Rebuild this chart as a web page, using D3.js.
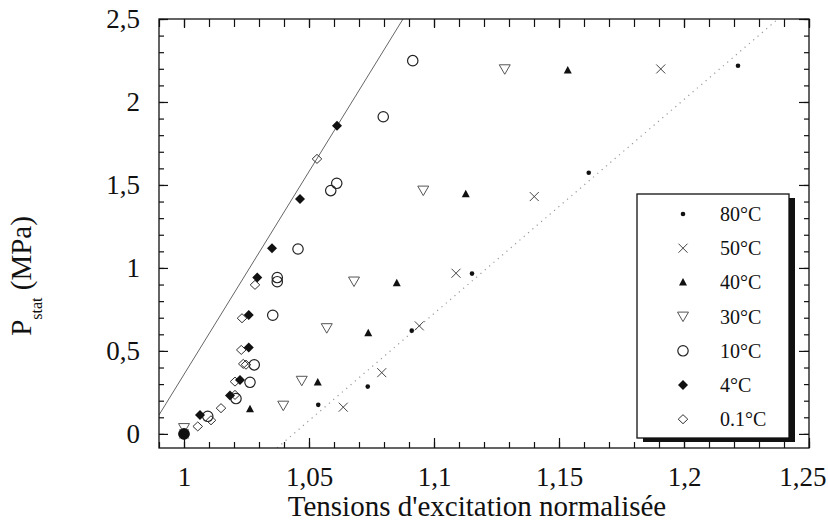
<!DOCTYPE html>
<html><head><meta charset="utf-8">
<script src="https://cdn.jsdelivr.net/npm/d3@7"></script>
<style>
body{margin:0;background:#fff;}
svg text{font-family:"Liberation Serif","Times New Roman",serif;fill:#111;}
</style></head>
<body><svg id="c" width="828" height="525"></svg>
<script>
// ---- data ----
const xMajorTicks=[1,1.05,1.1,1.15,1.2,1.25];
const xTickLabels=["1","1,05","1,1","1,15","1,2","1,25"];
const yMajorTicks=[0,0.5,1,1.5,2,2.5];
const yTickLabels=["0","0,5","1","1,5","2","2,5"];
const seriesNames=["80°C","50°C","40°C","30°C","10°C","4°C","0.1°C"];
const x80=[1.0,1.0537,1.0735,1.0911,1.1152,1.1619,1.2216];
const y80=[0,0.175,0.285,0.622,0.966,1.574,2.218];
const x50=[1.0,1.0637,1.0791,1.0941,1.1088,1.1401,1.1907];
const y50=[0,0.161,0.369,0.651,0.968,1.430,2.199];
const x40=[1.0,1.0264,1.0535,1.0737,1.0851,1.1127,1.1535];
const y40=[0,0.149,0.309,0.607,0.908,1.444,2.19];
const x30=[1.0,1.0397,1.0471,1.0571,1.068,1.0957,1.1283];
const y30=[0.035,0.17,0.32,0.637,0.918,1.466,2.197];
const x10=[1.0,1.0095,1.0208,1.0264,1.0281,1.0355,1.0373,1.0373,1.0456,1.0587,1.0611,1.0797,1.0915];
const y10=[0,0.106,0.213,0.311,0.416,0.715,0.917,0.942,1.114,1.466,1.510,1.911,2.249];
const x4=[1.0,1.0064,1.0184,1.0224,1.0259,1.0259,1.0293,1.0352,1.0464,1.0612];
const y4=[0,0.114,0.231,0.325,0.52,0.717,0.942,1.119,1.416,1.857];
const x01=[1.0,1.0055,1.0108,1.0148,1.0204,1.0204,1.0229,1.0237,1.0248,1.0232,1.0284,1.0532];
const y01=[0,0.045,0.082,0.155,0.235,0.315,0.506,0.422,0.417,0.697,0.898,1.657];
const solidLine=[[0.99,0.114],[1.0876,2.5]];
const dottedLine=[[1.0372,-0.085],[1.2376,2.5]];
const xDomain=[0.99,1.25], yDomain=[-0.085,2.5];

// ---- layout ----
const L=159,R=809,T=19,B=448;
const svg=d3.select("#c");
const x=d3.scaleLinear().domain(xDomain).range([L,R]);
const y=d3.scaleLinear().domain(yDomain).range([B,T]);

// reference lines (clipped)
svg.append("clipPath").attr("id","clip").append("rect").attr("x",L).attr("y",T).attr("width",R-L).attr("height",B-T);
const line=d3.line().x(d=>x(d[0])).y(d=>y(d[1]));
svg.append("path").attr("d",line(solidLine)).attr("clip-path","url(#clip)")
  .attr("stroke","#666").attr("stroke-width",1).attr("fill","none");
svg.append("path").attr("d",line(dottedLine)).attr("clip-path","url(#clip)")
  .attr("stroke","#999").attr("stroke-width",1.2).attr("stroke-dasharray","1.2,4.5").attr("fill","none");

// markers
const markers={
 "80°C":g=>g.append("circle").attr("r",2.3).attr("fill","#111"),
 "50°C":g=>g.append("path").attr("d","M-4.5,-4.5L4.5,4.5M-4.5,4.5L4.5,-4.5").attr("stroke","#444").attr("stroke-width",1).attr("fill","none"),
 "40°C":g=>g.append("path").attr("d","M0,-4.5L4,3L-4,3Z").attr("fill","#111"),
 "30°C":g=>g.append("path").attr("d","M-5.5,-4.5L5.5,-4.5L0,5Z").attr("stroke","#555").attr("stroke-width",1).attr("fill","none"),
 "10°C":g=>g.append("circle").attr("r",5.2).attr("stroke","#222").attr("stroke-width",1.2).attr("fill","none"),
 "4°C":g=>g.append("path").attr("d","M0,-5L5,0L0,5L-5,0Z").attr("fill","#111"),
 "0.1°C":g=>g.append("path").attr("d","M0,-4.5L4.8,0L0,4.5L-4.8,0Z").attr("stroke","#333").attr("stroke-width",1).attr("fill","none")
};
const series=[["80°C",x80,y80],["50°C",x50,y50],["40°C",x40,y40],["30°C",x30,y30],["10°C",x10,y10],["4°C",x4,y4],["0.1°C",x01,y01]];
const drawOrder=["0.1°C","10°C","30°C","50°C","40°C","4°C","80°C"];
drawOrder.forEach(name=>{
  const s=series.find(d=>d[0]===name);
  const pts=s[1].map((v,i)=>[v,s[2][i]]);
  svg.append("g").selectAll("g").data(pts).join("g")
    .attr("transform",d=>`translate(${x(d[0])},${y(d[1])})`)
    .each(function(){markers[name](d3.select(this));});
});
// origin blob (overlapping markers at 1,0)
svg.append("circle").attr("cx",x(1)).attr("cy",y(0)).attr("r",5.5).attr("fill","#111");

// axes with inward ticks on 4 sides
const xMinor=d3.range(99,126).map(v=>v/100);
const yMinor=d3.range(0,26).map(v=>v/10);
function styleAxis(g){g.select(".domain").remove();g.selectAll("line").attr("stroke","#111").attr("stroke-width",1.2);}
svg.append("g").attr("transform",`translate(0,${B})`).call(d3.axisBottom(x).tickValues(xMinor).tickSize(-6).tickFormat("")).call(styleAxis);
const xl=svg.append("g").attr("transform",`translate(0,${B})`).call(d3.axisBottom(x).tickValues(xMajorTicks).tickSize(-10).tickPadding(19).tickFormat((d,i)=>xTickLabels[i])).call(styleAxis);
xl.selectAll("text").attr("font-size",27).attr("fill","#111");
xl.selectAll(".tick").filter(d=>d===1.25).select("text").attr("text-anchor","end").attr("x",17);
svg.append("g").attr("transform",`translate(0,${T})`).call(d3.axisTop(x).tickValues(xMinor).tickSize(-8).tickFormat("")).call(styleAxis);
svg.append("g").attr("transform",`translate(0,${T})`).call(d3.axisTop(x).tickValues(xMajorTicks).tickSize(-9).tickFormat("")).call(styleAxis);
svg.append("g").attr("transform",`translate(${L},0)`).call(d3.axisLeft(y).tickValues(yMinor).tickSize(-5).tickFormat("")).call(styleAxis);
svg.append("g").attr("transform",`translate(${L},0)`).call(d3.axisLeft(y).tickValues(yMajorTicks).tickSize(-9).tickPadding(19).tickFormat((d,i)=>yTickLabels[i])).call(styleAxis)
  .selectAll("text").attr("font-size",27).attr("fill","#111");
svg.append("g").attr("transform",`translate(${R},0)`).call(d3.axisRight(y).tickValues(yMinor).tickSize(-5).tickFormat("")).call(styleAxis);
svg.append("g").attr("transform",`translate(${R},0)`).call(d3.axisRight(y).tickValues(yMajorTicks).tickSize(-10).tickFormat("")).call(styleAxis);
svg.append("rect").attr("x",L).attr("y",T).attr("width",R-L).attr("height",B-T).attr("fill","none").attr("stroke","#111").attr("stroke-width",1.3);

// axis titles
svg.append("text").attr("x",477).attr("y",516).attr("text-anchor","middle").attr("font-size",29).text("Tensions d'excitation normalisée");
const yt=svg.append("text").attr("transform","translate(31,276) rotate(-90)").attr("text-anchor","middle").attr("font-size",29);
yt.append("tspan").text("P");
yt.append("tspan").attr("font-size",16).attr("dy",11).text("stat");
yt.append("tspan").attr("dy",-11).text(" (MPa)");

// legend
const lx=637,ly=194,lw=152,lh=244;
svg.append("rect").attr("x",lx+6).attr("y",ly+4).attr("width",lw).attr("height",lh).attr("fill","#111");
svg.append("rect").attr("x",lx).attr("y",ly).attr("width",lw).attr("height",lh).attr("fill","#fff").attr("stroke","#111").attr("stroke-width",1.3);
seriesNames.forEach((name,i)=>{
  const cy=ly+20+i*34.2;
  const g=svg.append("g").attr("transform",`translate(${lx+46},${cy})`);
  markers[name](g);
  svg.append("text").attr("x",lx+83).attr("y",cy+7).attr("font-size",20).text(name);
});
</script></body></html>
